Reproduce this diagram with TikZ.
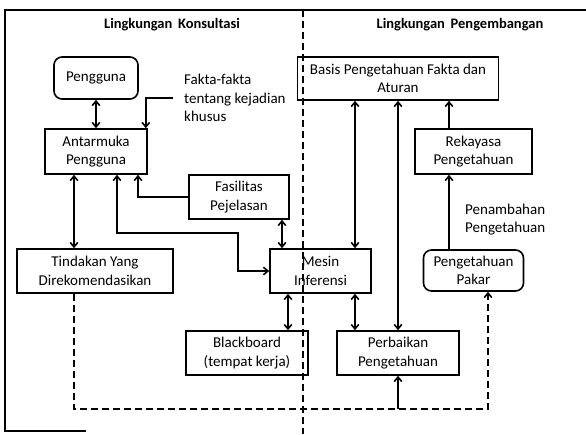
\documentclass[tikz,border=0pt]{standalone}
\usepackage{fontspec}
\setmainfont{Carlito}
\usetikzlibrary{arrows.meta,positioning}

\begin{document}
\begin{tikzpicture}[x=1pt,y=-1pt,
    box/.style={draw,line width=1.6pt,align=center,inner sep=0pt,
      font=\fontsize{15}{18.5}\selectfont},
    roundbox/.style={box,rounded corners=8pt},
    label text/.style={align=left,inner sep=0pt,anchor=west,
      font=\fontsize{15}{18.5}\selectfont},
    title/.style={font=\bfseries\fontsize{14.5}{17}\selectfont,inner sep=0pt},
    link/.style={line width=1.6pt,-{Straight Barb[length=4.5pt,width=7.5pt]}},
    dlink/.style={link,{Straight Barb[length=4.5pt,width=7.5pt]}-{Straight Barb[length=4.5pt,width=7.5pt]}}]
	\useasboundingbox (0,0) rectangle (586,434);

	% Frame and the two areas.
	\draw [line width=1.6pt] (86,431) -- (5,431) -- (5,10) -- (586,10);
	\draw [line width=1.6pt,dash pattern=on 7pt off 4pt] (303,10) -- (303,434);
	\node [title] (konsul) at (172,25) {Lingkungan \,Konsultasi};
	\node [title] (kembang) at (460,25) {Lingkungan \,Pengembangan};

	% Boxes.
	\node [roundbox,minimum width=84pt,minimum height=42pt] (peng) at (96,78) {Pengguna};
	\node [box,minimum width=102pt,minimum height=45pt] (antar) at (96,151.5) {Antarmuka\\Pengguna};
	\node [box,minimum width=100pt,minimum height=44pt] (fas) at (239,197) {Fasilitas\\Pejelasan};
	\node [box,minimum width=156pt,minimum height=44pt] (tind) at (95,271) {Tindakan Yang\\Direkomendasikan};
	\node [box,minimum width=101pt,minimum height=44pt] (mesin) at (320.5,271) {Mesin\\Inferensi};
	\node [box,minimum width=122pt,minimum height=44pt] (black) at (247,353) {Blackboard\\(tempat kerja)};
	\node [box,minimum width=122pt,minimum height=44pt] (perb) at (398,353) {Perbaikan\\Pengetahuan};
	\node [box,minimum width=201pt,minimum height=43pt] (basis) at (398,78.5) {Basis Pengetahuan Fakta dan\\Aturan};
	\node [box,minimum width=117pt,minimum height=45pt] (rek) at (473.5,151.5) {Rekayasa\\Pengetahuan};
	\node [roundbox,minimum width=100pt,minimum height=41pt] (pakar) at (473.5,270.5) {Pengetahuan\\Pakar};

	\node [label text] (fakta) at (184,98) {Fakta-fakta\\tentang kejadian\\khusus};
	\node [label text] (tambah) at (465,219.5) {Penambahan\\Pengetahuan};

	% Connectors.
	\draw [dlink] (peng.south) -- (antar.north);
	\draw [link] ([xshift=-11pt]fakta.west) -| ([xshift=-2pt]antar.north east);
	\draw [dlink] ([xshift=-22pt]antar.south) -- ([xshift=-22pt]antar.south |- tind.north);
	\coordinate (bend) at (238,233);
	\draw [dlink] ([xshift=21pt]antar.south) |- (bend) |- (mesin.west);
	\draw [link] (fas.west) -| ([xshift=42pt]antar.south);
	\draw [dlink] ([xshift=43pt]fas.south) -- ([xshift=43pt]fas.south |- mesin.north);
	\draw [dlink] ([xshift=41pt]black.north) -- ([xshift=41pt]black.north |- mesin.south);
	\draw [dlink] ([xshift=-43pt]perb.north) -- ([xshift=-43pt]perb.north |- mesin.south);
	\draw [dlink] ([xshift=-43pt]basis.south) -- ([xshift=-43pt]basis.south |- mesin.north);
	\draw [dlink] (basis.south) -- (perb.north);
	\draw [link] ([xshift=-24.5pt]rek.north) -- ([xshift=-24.5pt]rek.north |- basis.south);
	\draw [link] ([xshift=-24.5pt]pakar.north) -- ([xshift=-24.5pt]pakar.north |- rek.south);

	% Feedback loop.
	\coordinate (base) at (0,409);
	\draw [link,dash pattern=on 7pt off 4pt] ([xshift=-21pt]tind.south) |- ([xshift=14.5pt]pakar.south |- base) -- ([xshift=14.5pt]pakar.south);
	\draw [link] (perb.south |- base) -- (perb.south);
\end{tikzpicture}
\end{document}
